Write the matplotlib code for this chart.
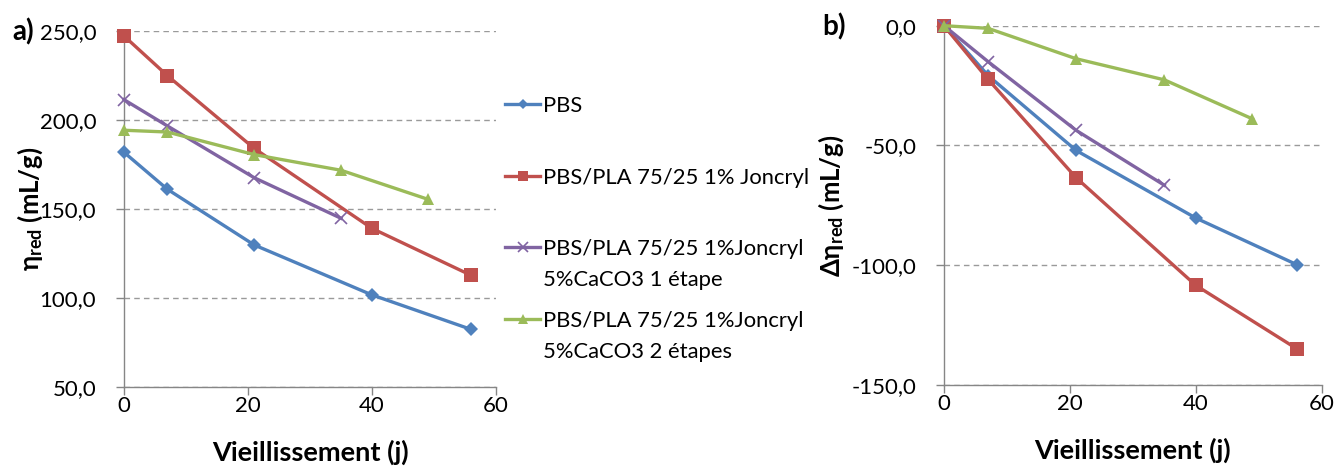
import matplotlib
matplotlib.use("Agg")
import matplotlib.pyplot as plt
from matplotlib.lines import Line2D

plt.rcParams['font.family'] = ['Lato', 'DejaVu Sans']
plt.rcParams['mathtext.fontset'] = 'custom'
plt.rcParams['mathtext.rm'] = 'Lato'
plt.rcParams['mathtext.it'] = 'Lato:italic'
plt.rcParams['mathtext.bf'] = 'Lato:bold'

# ---- data ----
series_names = [
    "PBS",
    "PBS/PLA 75/25 1% Joncryl",
    "PBS/PLA 75/25 1%Joncryl\n5%CaCO3 1 étape",
    "PBS/PLA 75/25 1%Joncryl\n5%CaCO3 2 étapes",
]
x_pbs = [0, 7, 21, 40, 56]
x_joncryl = [0, 7, 21, 40, 56]
x_caco3_1 = [0, 7, 21, 35]
x_caco3_2 = [0, 7, 21, 35, 49]

# panel a: reduced viscosity (mL/g)
eta_pbs = [181.8, 161.0, 129.7, 101.6, 82.2]
eta_joncryl = [247.2, 224.9, 184.0, 139.0, 112.6]
eta_caco3_1 = [211.4, 196.6, 167.5, 144.7]
eta_caco3_2 = [194.2, 193.2, 180.5, 171.7, 155.4]

# panel b: variation of reduced viscosity (mL/g)
d_pbs = [0.0, -20.8, -52.1, -80.3, -99.7]
d_joncryl = [0.0, -22.4, -63.5, -108.4, -134.8]
d_caco3_1 = [0.0, -15.0, -43.7, -66.6]
d_caco3_2 = [0.0, -1.1, -13.8, -22.6, -38.9]

xticks = [0, 20, 40, 60]
a_yticks = [50, 100, 150, 200, 250]
a_yticklabels = ["50,0", "100,0", "150,0", "200,0", "250,0"]
b_yticks = [-150, -100, -50, 0]
b_yticklabels = ["-150,0", "-100,0", "-50,0", "0,0"]

colors = ["#4F81BD", "#C0504D", "#8064A2", "#9BBB59"]
markers = ["D", "s", "x", "^"]
msizes = [7, 9.5, 8.5, 9]

fig = plt.figure(figsize=(13.36, 4.70), dpi=100)
ax_a = fig.add_axes([124/1336, 1-386.7/470, (496-124)/1336, (386.7-31)/470])
ax_b = fig.add_axes([944/1336, 1-385/470, (1321.7-944)/1336, (385-25.7)/470])

grey = "#868686"


def style(ax, yticks, ylabels):
    ax.set_xlim(0, 60)
    ax.set_ylim(yticks[0], yticks[-1])
    ax.set_xticks(xticks)
    ax.set_xticklabels([str(v) for v in xticks])
    ax.set_yticks(yticks)
    ax.set_yticklabels(ylabels)
    for s in ["top", "right"]:
        ax.spines[s].set_visible(False)
    for s in ["left", "bottom"]:
        ax.spines[s].set_color(grey)
        ax.spines[s].set_linewidth(1)
    ax.tick_params(axis="both", direction="out", length=6, width=1, color=grey,
                   labelsize=16, labelcolor="black")
    ax.tick_params(axis="x", pad=0.5)
    ax.tick_params(axis="y", pad=14)
    ax.yaxis.grid(True, linestyle=(0, (4, 3)), color="#9a9a9a", linewidth=1)
    ax.set_axisbelow(True)
    ax.set_xlabel("Vieillissement (j)", fontsize=19.5, fontweight="bold", labelpad=17)


xs = [x_pbs, x_joncryl, x_caco3_1, x_caco3_2]
ya = [eta_pbs, eta_joncryl, eta_caco3_1, eta_caco3_2]
yb = [d_pbs, d_joncryl, d_caco3_1, d_caco3_2]

handles = []
for i in range(4):
    mew = 1.2 if markers[i] == "x" else 0
    kw = dict(color=colors[i], marker=markers[i], markersize=msizes[i], linewidth=2.4,
              markeredgewidth=mew, markeredgecolor=colors[i], clip_on=False, zorder=3)
    ax_a.plot(xs[i], ya[i], **kw)
    ax_b.plot(xs[i], yb[i], **kw)
    handles.append(Line2D([], [], color=colors[i], marker=markers[i],
                          markersize=msizes[i] * 0.8, linewidth=2.4,
                          markeredgewidth=mew, markeredgecolor=colors[i]))

style(ax_a, a_yticks, a_yticklabels)
style(ax_b, b_yticks, b_yticklabels)

ax_a.set_ylabel(r"η$_{\mathbf{red}}$ (mL/g)", fontsize=18.5, fontweight="bold", labelpad=-4)
ax_b.set_ylabel(r"Δη$_{\mathbf{red}}$ (mL/g)", fontsize=18.5, fontweight="bold", labelpad=4)

fig.text(12/1336, 1-32/470, "a)", fontsize=20, fontweight="bold", va="center", ha="left")
fig.text(822/1336, 1-27/470, "b)", fontsize=20, fontweight="bold", va="center", ha="left")

# legend: first lines in a legend, second lines placed under them
first_lines = [n.split("\n")[0] for n in series_names]
second_lines = [n.split("\n")[1] if "\n" in n else "" for n in series_names]
leg = fig.legend(handles, first_lines, loc="upper left",
                 bbox_to_anchor=(505/1336, 1-96/470), frameon=False,
                 fontsize=15.8, handlelength=1.6, handletextpad=0.12,
                 labelspacing=2.35, borderpad=0, borderaxespad=0)
fig.canvas.draw()
renderer = fig.canvas.get_renderer()
for t, second in zip(leg.get_texts(), second_lines):
    if second:
        bb = t.get_window_extent(renderer)
        fig.text(bb.x0, bb.y0 - 31, second, fontsize=15.8, transform=None,
                 ha="left", va="bottom")

fig.savefig("out.png", dpi=100)
